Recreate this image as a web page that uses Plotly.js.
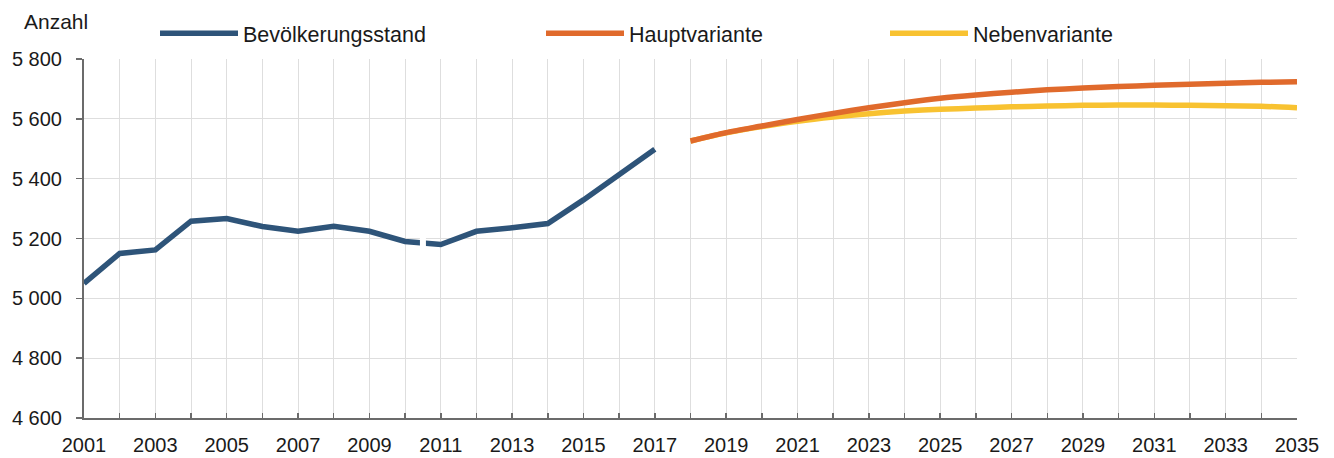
<!DOCTYPE html>
<html>
<head>
<meta charset="utf-8">
<script src="https://cdn.plot.ly/plotly-3.0.1.min.js"></script>
<style>
  html, body { margin: 0; padding: 0; background: #ffffff; }
  #chart { width: 1334px; height: 458px; }
</style>
</head>
<body>
<div id="chart"></div>
<script>
// ---- Data ----
const histYears = [2001, 2002, 2003, 2004, 2005, 2006, 2007, 2008, 2009, 2010, 2011, 2012, 2013, 2014, 2015, 2016, 2017];
const bevoelkerungsstand = [5050, 5150, 5162, 5258, 5267, 5240, 5224, 5241, 5224, 5190, 5180, 5224, 5236, 5250, 5329, 5414, 5498];
const projYears = [2018, 2019, 2020, 2021, 2022, 2023, 2024, 2025, 2026, 2027, 2028, 2029, 2030, 2031, 2032, 2033, 2034, 2035];
const hauptvariante = [5526, 5554, 5576, 5598, 5618, 5637, 5654, 5669, 5680, 5689, 5697, 5703, 5708, 5712, 5716, 5719, 5722, 5724];
const nebenvariante = [5526, 5553, 5574, 5592, 5606, 5617, 5626, 5632, 5636, 5640, 5643, 5645, 5646, 5646, 5645, 5644, 5642, 5637];
const allYears = [2001, 2002, 2003, 2004, 2005, 2006, 2007, 2008, 2009, 2010, 2011, 2012, 2013, 2014, 2015, 2016, 2017, 2018,
                  2019, 2020, 2021, 2022, 2023, 2024, 2025, 2026, 2027, 2028, 2029, 2030, 2031, 2032, 2033, 2034, 2035];
const xTickLabels = allYears.map(y => (y % 2 === 1 ? String(y) : ''));
const seriesNames = ['Bevölkerungsstand', 'Hauptvariante', 'Nebenvariante'];
const yAxisLabel = 'Anzahl';

// Break in the series (census revision) between 2010 and 2011
const breakIdx = histYears.indexOf(2010);
const breakX = (histYears[breakIdx] + histYears[breakIdx + 1]) / 2;
const breakY = (bevoelkerungsstand[breakIdx] + bevoelkerungsstand[breakIdx + 1]) / 2;

const FONT = 'Liberation Sans, Arial, sans-serif';
const TXT = '#1a1a1a';

const traces = [
  {
    x: histYears, y: bevoelkerungsstand, name: seriesNames[0], type: 'scatter', mode: 'lines',
    line: { color: '#2e5479', width: 5.5 }, legend: 'legend'
  },
  {
    x: [breakX], y: [breakY], type: 'scatter', mode: 'markers', showlegend: false, hoverinfo: 'skip',
    marker: { symbol: 'line-ns-open', size: 8, color: '#ffffff', line: { color: '#ffffff', width: 6 } }
  },
  {
    x: projYears, y: nebenvariante, name: seriesNames[2], type: 'scatter', mode: 'lines',
    line: { color: '#f8c231', width: 5.5, shape: 'spline', smoothing: 0.6 }, legend: 'legend3'
  },
  {
    x: projYears, y: hauptvariante, name: seriesNames[1], type: 'scatter', mode: 'lines',
    line: { color: '#e06a2c', width: 5.5, shape: 'spline', smoothing: 0.6 }, legend: 'legend2'
  }
];

const legendBase = {
  orientation: 'h', xref: 'paper', yref: 'paper', yanchor: 'middle', y: 1.072,
  bgcolor: 'rgba(0,0,0,0)', borderwidth: 0, itemwidth: 78,
  font: { family: FONT, size: 21.5, color: TXT }, itemclick: false, itemdoubleclick: false
};

const layout = {
  width: 1334, height: 458,
  margin: { l: 84, r: 37, t: 59, b: 40, pad: 0 },
  paper_bgcolor: '#ffffff', plot_bgcolor: '#ffffff',
  font: { family: FONT, size: 20, color: TXT },
  separators: ', ',
  showlegend: true,
  legend: Object.assign({}, legendBase, { x: (155 - 84) / 1213, xanchor: 'left' }),
  legend2: Object.assign({}, legendBase, { x: (541 - 84) / 1213, xanchor: 'left' }),
  legend3: Object.assign({}, legendBase, { x: (885 - 84) / 1213, xanchor: 'left' }),
  xaxis: {
    range: [2001, 2035], tickmode: 'array', tickvals: allYears, ticktext: xTickLabels,
    showgrid: true, gridcolor: '#dedede', gridwidth: 1,
    showline: true, linecolor: '#6b6b6b', linewidth: 2,
    ticks: 'inside', ticklen: 5, tickwidth: 1.5, tickcolor: '#6b6b6b',
    ticklabelstandoff: 8,
    tickfont: { family: FONT, size: 20, color: TXT },
    zeroline: false, fixedrange: true
  },
  yaxis: {
    range: [4600, 5800], tick0: 4600, dtick: 200, separatethousands: true,
    showgrid: true, gridcolor: '#dedede', gridwidth: 1,
    showline: true, linecolor: '#6b6b6b', linewidth: 2,
    ticks: 'outside', ticklen: 6, tickwidth: 1.5, tickcolor: '#6b6b6b',
    ticklabelstandoff: 10,
    tickfont: { family: FONT, size: 20, color: TXT },
    zeroline: false, fixedrange: true
  },
  annotations: [
    { text: yAxisLabel, xref: 'paper', yref: 'paper', x: -0.051, y: 1.105, xanchor: 'left', yanchor: 'middle',
      showarrow: false, font: { family: FONT, size: 21, color: TXT } }
  ]
};

Plotly.newPlot('chart', traces, layout, { displayModeBar: false, staticPlot: true });
</script>
</body>
</html>
